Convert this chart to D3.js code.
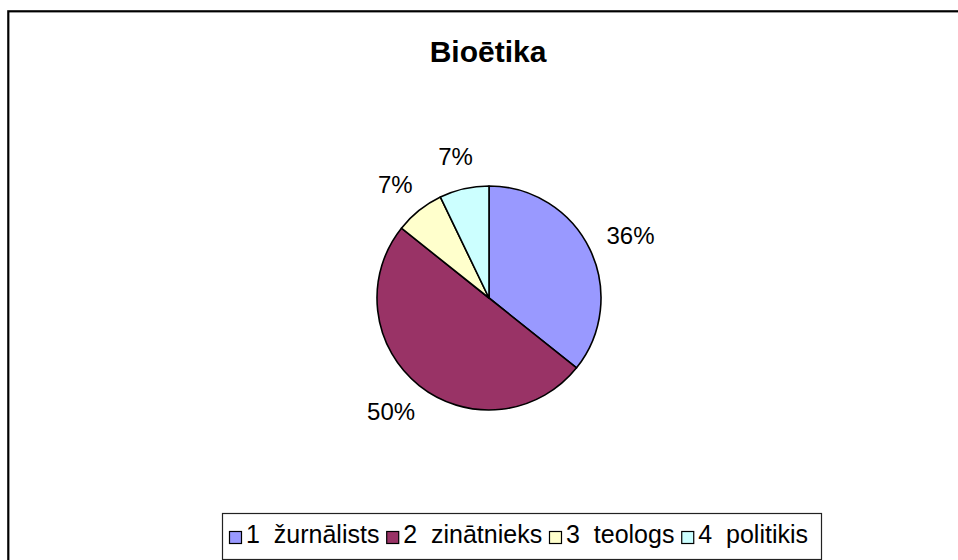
<!DOCTYPE html>
<html>
<head>
<meta charset="utf-8">
<script src="https://cdn.jsdelivr.net/npm/d3@7"></script>
<style>
  body { margin: 0; background: #fff; }
  svg { display: block; font-family: "Liberation Sans", Arial, sans-serif; }
</style>
</head>
<body>
<div class="chart"></div>
<script>
// data
var categories = ["1  žurnālists", "2  zinātnieks", "3  teologs", "4  politikis"];
var values = [5, 7, 1, 1];
var colors = ["#9999FF", "#993366", "#FFFFCC", "#CCFFFF"];
var title = "Bioētika";

var width = 958, height = 560;
var cx = 489, cy = 298, radius = 112;

var svg = d3.select(".chart").append("svg")
    .attr("width", width)
    .attr("height", height);

// outer chart border (runs off the page right and bottom)
svg.append("rect")
    .attr("x", 8.3).attr("y", 11.3)
    .attr("width", 1200).attr("height", 1200)
    .style("fill", "none")
    .style("stroke", "#000")
    .style("stroke-width", 2.2);

svg.append("text")
    .attr("x", 488).attr("y", 62)
    .attr("text-anchor", "middle")
    .style("font-size", "30px")
    .style("font-weight", "bold")
    .text(title);

var total = d3.sum(values);
var pie = d3.pie().sort(null).value(d => d);
var arc = d3.arc().innerRadius(0).outerRadius(radius);

var g = svg.append("g").attr("transform", `translate(${cx},${cy})`);

var slices = pie(values);

g.selectAll("path")
    .data(slices)
    .enter().append("path")
    .attr("d", arc)
    .style("fill", (d, i) => colors[i])
    .style("stroke", "#000")
    .style("stroke-width", 1.6)
    .style("stroke-linejoin", "round");

/* percent labels outside the pie */
g.selectAll(".lbl")
    .data(slices)
    .enter().append("text")
    .attr("class", "lbl")
    .style("font-size", "24px")
    .attr("text-anchor", "middle")
    .attr("dy", "0.35em")
    .text(d => Math.round(d.data / total * 100) + "%")
    .each(function(d) {
        var a = (d.startAngle + d.endAngle) / 2;
        var s = Math.sin(a), c = -Math.cos(a);
        var w = this.getComputedTextLength();
        var r = radius + 21;
        var x = s * r + s * w / 2;
        var y = c * r + c * 12;
        d3.select(this).attr("x", x).attr("y", y);
    });

// legend
var legend = svg.append("g");
var boxLeft = 222, boxRight = 821, sq = 12, ly = 531;
var first = boxLeft + 7, last = boxRight - 13;

var items = categories.map(function(name, i) {
    var sw = legend.append("rect")
        .attr("y", ly + 0.5)
        .attr("width", sq).attr("height", sq)
        .style("fill", colors[i])
        .style("stroke", "#000")
        .style("stroke-width", 1.2);
    var t = legend.append("text")
        .attr("y", 543)
        .style("font-size", "25px")
        .style("white-space", "pre")
        .text(name);
    return {sw: sw, t: t, w: t.node().getComputedTextLength()};
});

var used = d3.sum(items, d => sq + 5 + d.w);
var gap = (last - first - used) / (items.length - 1);
var lx = first;
items.forEach(function(d) {
    d.sw.attr("x", lx + 0.5);
    d.t.attr("x", lx + sq + 5);
    lx += sq + 5 + d.w + gap;
});

legend.insert("rect", ":first-child")
    .attr("x", boxLeft + 0.5).attr("y", 513.5)
    .attr("width", boxRight - boxLeft).attr("height", 46)
    .style("fill", "#fff")
    .style("stroke", "#222")
    .style("stroke-width", 1.2);
</script>
</body>
</html>
